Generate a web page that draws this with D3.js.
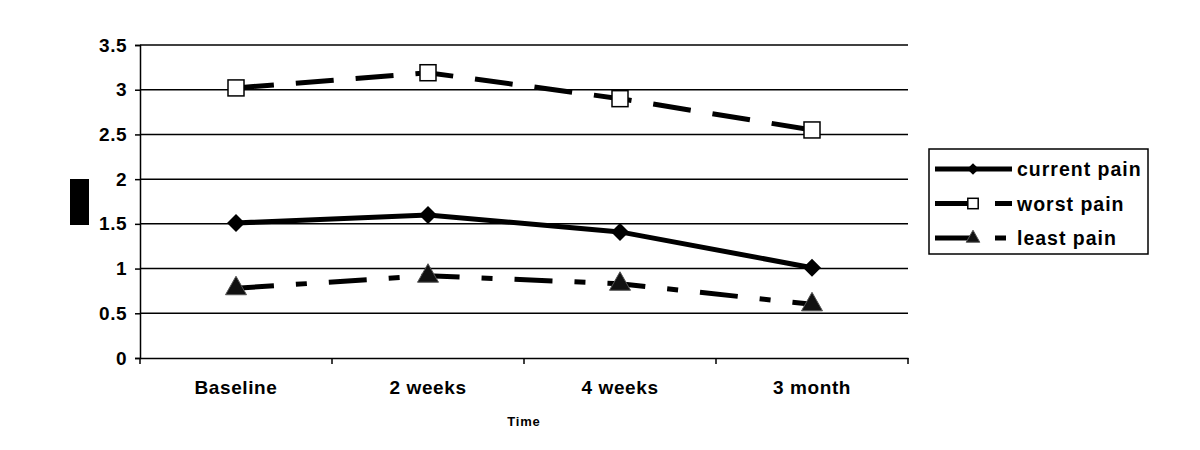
<!DOCTYPE html>
<html><head><meta charset="utf-8">
<script src="https://cdn.jsdelivr.net/npm/d3@7"></script>
<style>
html,body{margin:0;padding:0;background:#fff;}
text{font-family:"Liberation Sans",Arial,sans-serif;font-weight:bold;fill:#000;}
</style></head>
<body><svg id="chart" width="1200" height="450"></svg>
<script>
const categories = ["Baseline", "2 weeks", "4 weeks", "3 month"];
const currentPain = [1.51, 1.60, 1.41, 1.01];
const worstPain = [3.02, 3.19, 2.90, 2.55];
const leastPain = [0.78, 0.92, 0.83, 0.60];
const yTicks = [0, 0.5, 1, 1.5, 2, 2.5, 3, 3.5];
const seriesNames = ["current pain", "worst pain", "least pain"];
const xTitle = "Time";

const svg = d3.select("#chart");
const m = {left:140, right:908, top:45, bottom:358};
const x = d3.scaleBand().domain(categories).range([m.left, m.right]);
const y = d3.scaleLinear().domain([0, 3.5]).range([m.bottom, m.top]);

// gridlines
svg.append("g").selectAll("line").data(yTicks.filter(d => d > 0)).join("line")
  .attr("x1", m.left).attr("x2", m.right)
  .attr("y1", d => y(d)).attr("y2", d => y(d))
  .attr("stroke", "#000").attr("stroke-width", 1.5);

// y axis
const yAxis = svg.append("g").attr("transform", `translate(${m.left},0)`)
  .call(d3.axisLeft(y).tickValues(yTicks).tickSize(5).tickPadding(8).tickFormat(d3.format("")));
yAxis.select(".domain").attr("stroke", "#000").attr("stroke-width", 1.5);
yAxis.selectAll(".tick line").attr("stroke-width", 1.5);
yAxis.selectAll("text").attr("font-size", 19).attr("font-family", "Liberation Sans, Arial, sans-serif")
  .attr("font-weight", "bold").attr("letter-spacing", 0.5);

// x axis
const xAxis = svg.append("g").attr("transform", `translate(0,${m.bottom})`)
  .call(d3.axisBottom(x).tickSize(0).tickPadding(23));
xAxis.select(".domain").attr("stroke", "#000").attr("stroke-width", 1.5);
xAxis.selectAll("text").attr("font-size", 19).attr("font-family", "Liberation Sans, Arial, sans-serif")
  .attr("font-weight", "bold").attr("letter-spacing", 0.6);
// category boundary ticks
const bounds = categories.map(c => x(c)).concat([m.right]);
svg.append("g").selectAll("line").data(bounds).join("line")
  .attr("x1", d => d).attr("x2", d => d)
  .attr("y1", m.bottom).attr("y2", m.bottom + 6)
  .attr("stroke", "#000").attr("stroke-width", 1.5);

// axis titles
svg.append("text").attr("x", (m.left + m.right) / 2).attr("y", 426)
  .attr("text-anchor", "middle").attr("font-size", 13).attr("letter-spacing", 0.8).text(xTitle);
// y axis title rendered as a solid block in the reference
svg.append("rect").attr("x", 70).attr("y", 179).attr("width", 19).attr("height", 46).attr("fill", "#000");

const cx = d => x(d) + x.bandwidth() / 2;
const line = d3.line().x((d, i) => cx(categories[i])).y(d => y(d));

const series = [
  {name: seriesNames[0], values: currentPain, dash: null, marker: "diamond"},
  {name: seriesNames[1], values: worstPain, dash: "38,22", marker: "square"},
  {name: seriesNames[2], values: leastPain, dash: "38,22,11,22", marker: "triangle"}
];

function drawMarker(g, type, px, py, k) {
  if (type === "diamond") {
    const r = 9 * k;
    g.append("path").attr("d", `M${px},${py-r}L${px+r},${py}L${px},${py+r}L${px-r},${py}Z`).attr("fill", "#000");
  } else if (type === "square") {
    const h = 8 * k;
    g.append("rect").attr("x", px - h).attr("y", py - h).attr("width", 2 * h).attr("height", 2 * h)
      .attr("fill", "#fff").attr("stroke", "#000").attr("stroke-width", 1.5);
  } else {
    g.append("path").attr("d", `M${px},${py-12*k}L${px+10.5*k},${py+6.5*k}L${px-10.5*k},${py+6.5*k}Z`)
      .attr("fill", "#111").attr("stroke", "#555").attr("stroke-width", 1);
  }
}

series.forEach(s => {
  svg.append("path").datum(s.values).attr("d", line)
    .attr("fill", "none").attr("stroke", "#000").attr("stroke-width", 5)
    .attr("stroke-dasharray", s.dash);
});
series.forEach(s => {
  const g = svg.append("g");
  s.values.forEach((v, i) => drawMarker(g, s.marker, cx(categories[i]), y(v), 1));
});

// legend
const lg = svg.append("g");
lg.append("rect").attr("x", 929).attr("y", 149).attr("width", 219).attr("height", 105)
  .attr("fill", "#fff").attr("stroke", "#000").attr("stroke-width", 1.5);
const ly = d3.scalePoint().domain(seriesNames).range([169, 238]);
series.forEach(s => {
  const yy = ly(s.name);
  lg.append("line").attr("x1", 935).attr("x2", 1012).attr("y1", yy).attr("y2", yy)
    .attr("stroke", "#000").attr("stroke-width", 5).attr("stroke-dasharray", s.dash);
  drawMarker(lg, s.marker, 973, yy, 0.65);
  lg.append("text").attr("x", 1017).attr("y", yy + 7).attr("font-size", 19.5).attr("letter-spacing", 1).text(s.name);
});
</script></body></html>
